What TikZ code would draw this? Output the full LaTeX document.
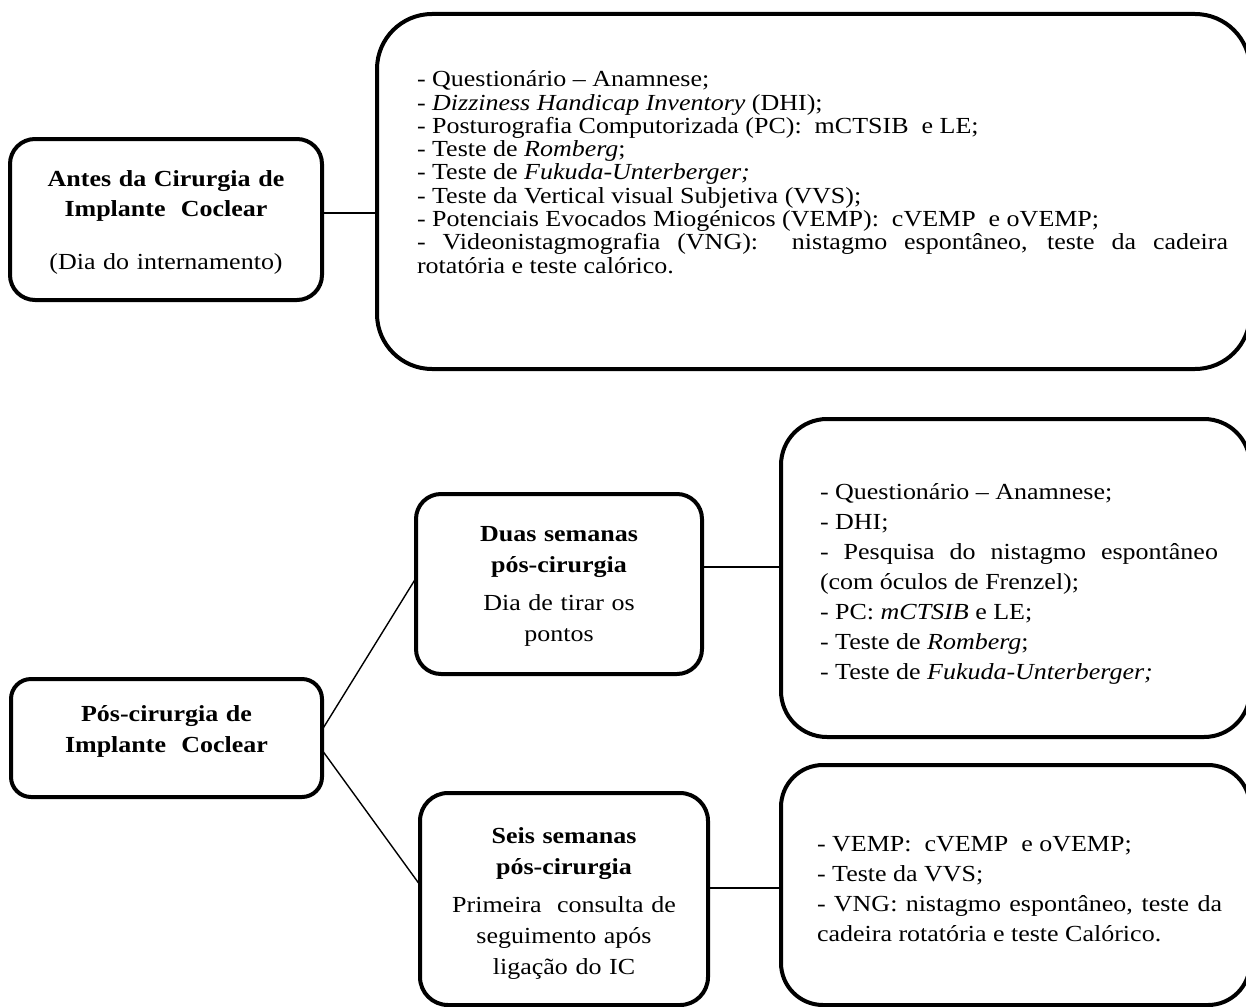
\documentclass[tikz,border=0pt]{standalone}
\usepackage{fontspec}
\setmainfont{Liberation Serif}[FakeStretch=1.13]
\begin{document}
\begin{tikzpicture}[x=0.5pt,y=-0.5pt,
  rbox/.style={draw, rectangle, line width=2pt, rounded corners=#1, inner sep=0pt, outer sep=0pt},
  link/.style={line width=0.7pt},
  txt/.style={inner sep=0pt, outer sep=0pt, execute at begin node={\lineskiplimit=-50pt}},
  ctxt/.style={txt, anchor=base, text width=140pt, align=center},
  f15/.style={font=\fontsize{11.5pt}{15pt}\selectfont},
  f155/.style={font=\fontsize{11.5pt}{15.5pt}\selectfont},
  ftight/.style={font=\fontsize{11.5pt}{11.625pt}\selectfont},
]
\useasboundingbox (0,0) rectangle (1246,1006);
% boxes
\node[rbox=12.5pt, minimum width=156pt, minimum height=80.5pt] (A) at (166,219.5) {};
\node[rbox=27.5pt, minimum width=436.5pt, minimum height=177.5pt] (B) at (813.5,191.5) {};
\node[rbox=10pt, minimum width=155.5pt, minimum height=59pt] (C) at (166.5,738) {};
\node[rbox=12.5pt, minimum width=143pt, minimum height=90pt] (D) at (559,584) {};
\node[rbox=23pt, minimum width=234.5pt, minimum height=159pt] (E) at (1015.5,578) {};
\node[rbox=14pt, minimum width=144pt, minimum height=106pt] (F) at (564,899) {};
\node[rbox=21pt, minimum width=234.5pt, minimum height=120pt] (G) at (1015.5,885) {};
% connectors
\coordinate (yAB) at (0,213);
\coordinate (yC1) at (0,730);
\coordinate (yD1) at (0,578);
\coordinate (yC2) at (0,750);
\coordinate (yF1) at (0,885);
\coordinate (yDE) at (0,567);
\coordinate (yFG) at (0,888);
\draw[link] (A.east |- yAB) -- (B.west |- yAB);
\draw[link] (C.east |- yC1) -- (D.west |- yD1);
\draw[link] (C.east |- yC2) -- (F.west |- yF1);
\draw[link] (D.east |- yDE) -- (E.west |- yDE);
\draw[link] (F.east |- yFG) -- (G.west |- yFG);
% texts
\node[ctxt, f15] (tA) at (166,186)
  {\textbf{Antes da Cirurgia de}\\\textbf{Implante\ \ Coclear}\\[11.5pt](Dia do internamento)};
\node[txt, ftight, anchor=base west, text width=405.5pt, align=justify] (tB) at (417,87)
  {- Questionário – Anamnese;\\
   - \textit{Dizziness Handicap Inventory} (DHI);\\
   - Posturografia Computorizada (PC):\ \ mCTSIB\ \ e LE;\\
   - Teste de \textit{Romberg};\\
   - Teste de \textit{Fukuda-Unterberger;}\\
   - Teste da Vertical visual Subjetiva (VVS);\\
   - Potenciais Evocados Miogénicos (VEMP):\ \ cVEMP\ \ e oVEMP;\\
   - Videonistagmografia (VNG):\ \ nistagmo espontâneo, teste da cadeira\linebreak
   rotatória e teste calórico.};
\node[ctxt, f155] (tC) at (166.5,721)
  {\textbf{Pós-cirurgia de}\\\textbf{Implante\ \ Coclear}};
\node[ctxt, f155] (tD) at (559,541)
  {\textbf{Duas semanas}\\\textbf{pós-cirurgia}\\[3.5pt]Dia de tirar os\\pontos};
\node[txt, f15, anchor=base west, text width=199pt, align=justify] (tE) at (820,499)
  {- Questionário – Anamnese;\\
   - DHI;\\
   - Pesquisa do nistagmo espontâneo\linebreak
   (com óculos de Frenzel);\\
   - PC: \textit{mCTSIB} e LE;\\
   - Teste de \textit{Romberg};\\
   - Teste de \textit{Fukuda-Unterberger;}};
\node[ctxt, f155] (tF) at (564,843)
  {\textbf{Seis semanas}\\\textbf{pós-cirurgia}\\[3.5pt]Primeira\ \ consulta de\\seguimento após\\ligação do IC};
\node[txt, f15, anchor=base west, text width=202.5pt, align=justify] (tG) at (817,851)
  {- VEMP:\ \ cVEMP\ \ e oVEMP;\\
   - Teste da VVS;\\
   - VNG: nistagmo espontâneo, teste da\linebreak
   cadeira rotatória e teste Calórico.};
\end{tikzpicture}
\end{document}
